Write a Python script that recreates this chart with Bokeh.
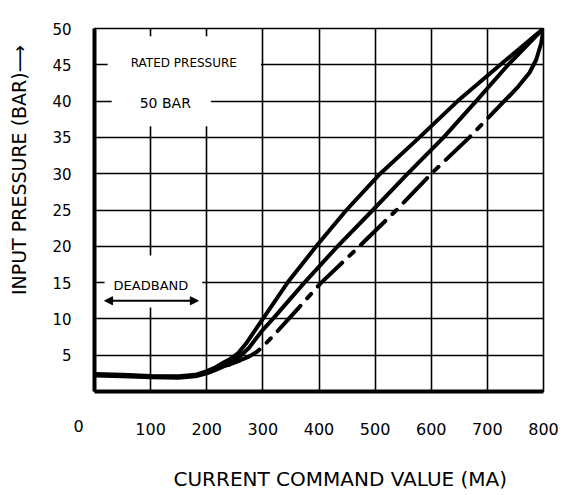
import numpy as np
from bokeh.plotting import figure
from bokeh.models import Range1d, FixedTicker, Label, Arrow, NormalHead
from bokeh.embed import file_html
from bokeh.resources import INLINE

# ---------------- data ----------------
x_ticks = [100, 200, 300, 400, 500, 600, 700, 800]
y_ticks = [5, 10, 15, 20, 25, 30, 35, 40, 45, 50]

upper_x = [0, 50, 100, 150, 180, 200, 215, 230, 240, 255, 270, 285, 300, 344, 395, 449, 509, 579, 647, 723, 800]
upper_y = [2.4, 2.3, 2.15, 2.1, 2.3, 2.8, 3.3, 4.0, 4.4, 5.2, 6.6, 8.3, 10.0, 15.0, 20.0, 25.0, 30.0, 35.0, 40.0, 45.0, 50.0]

middle_x = [0, 50, 100, 150, 180, 200, 215, 230, 245, 260, 275, 290, 300, 319, 374, 433, 496, 558, 622, 680, 737, 800]
middle_y = [2.3, 2.2, 2.05, 2.0, 2.2, 2.65, 3.1, 3.7, 4.2, 4.9, 6.0, 7.5, 8.5, 10.1, 15.0, 20.0, 25.0, 30.0, 35.0, 40.0, 45.0, 50.0]

lower_x = [0, 50, 100, 150, 180, 200, 215, 230, 240, 260, 275, 290, 305, 320, 346, 404, 472, 538, 600, 668, 730, 739, 755, 775, 787, 796, 800]
lower_y = [2.2, 2.1, 1.95, 1.9, 2.1, 2.5, 2.95, 3.45, 3.7, 4.3, 4.8, 5.5, 6.6, 7.8, 10.0, 15.0, 20.0, 25.0, 30.0, 35.0, 40.0, 40.7, 42.0, 43.9, 45.7, 48.0, 50.0]

x_zero_label = "0"
x_title = "CURRENT COMMAND VALUE  (MA)"
y_title = "INPUT PRESSURE (BAR)\u27f6"
rated_text = "RATED PRESSURE"
rated_value_text = "50 BAR"
deadband_text = "DEADBAND"

# ---------------- style ----------------
FONT = "DejaVu Sans"
INK = "black"
LOWER_DASH_START = 240
LOWER_DASH_END = 739

p = figure(
    x_range=Range1d(0, 800), y_range=Range1d(0, 50),
    frame_width=449, frame_height=363,
    min_border_left=94, min_border_right=25, min_border_top=28, min_border_bottom=102,
    output_backend="svg", toolbar_location=None,
    background_fill_color="white", border_fill_color="white",
)
p.outline_line_color = INK
p.outline_line_width = 1.6

for ax, ticks in ((p.xaxis, x_ticks), (p.yaxis, y_ticks)):
    ax.ticker = FixedTicker(ticks=ticks)
    ax.axis_line_width = 4
    ax.axis_line_color = INK
    ax.major_tick_line_color = None
    ax.minor_tick_line_color = None
    ax.major_label_text_font = FONT
    ax.major_label_text_color = INK
p.xaxis.major_label_text_font_size = "16px"
p.xaxis.major_label_standoff = 25
p.yaxis.major_label_text_font_size = "15px"
p.yaxis.major_label_standoff = 17

p.xgrid.ticker = FixedTicker(ticks=x_ticks)
p.ygrid.ticker = FixedTicker(ticks=y_ticks)
for g in (p.xgrid, p.ygrid):
    g.grid_line_color = INK
    g.grid_line_width = 1.6
    g.grid_line_alpha = 1.0

# curves
line_kw = dict(line_width=4, line_color=INK, line_cap="round", line_join="round")
p.line(upper_x, upper_y, **line_kw)
p.line(middle_x, middle_y, **line_kw)

lx = np.array(lower_x)
ly = np.array(lower_y)
m_solid_a = lx <= LOWER_DASH_START
m_dash = (lx >= LOWER_DASH_START) & (lx <= LOWER_DASH_END)
m_solid_b = lx >= LOWER_DASH_END
p.line(lx[m_solid_a], ly[m_solid_a], **line_kw)
p.line(lx[m_dash], ly[m_dash], line_dash="34 10 6 10", **line_kw)
p.line(lx[m_solid_b], ly[m_solid_b], **line_kw)

# annotations with white boxes
rated = Label(x=160, y=44.8, text=rated_text, text_align="center", text_baseline="middle",
              text_font=FONT, text_font_size="12px", text_color=INK,
              background_fill_color="white",
              padding=dict(left=23, right=24, top=20, bottom=26))
rated_val = Label(x=119, y=39.3, text=rated_value_text, text_align="center", text_baseline="middle",
                  text_font=FONT, text_font_size="14px", text_color=INK,
                  background_fill_color="white",
                  padding=dict(left=28, right=20, top=9, bottom=15))
dead = Label(x=105, y=15.15, text=deadband_text, text_align="center", text_baseline="middle",
             text_font=FONT, text_font_size="13px", text_color=INK,
             background_fill_color="white",
             padding=dict(left=9, right=14, top=22, bottom=15))
p.add_layout(rated)
p.add_layout(rated_val)
p.add_layout(dead)

arrow = Arrow(x_start=18, y_start=12.5, x_end=185, y_end=12.5, line_width=2, line_color=INK,
              start=NormalHead(size=8, fill_color=INK, line_color=INK, line_width=1),
              end=NormalHead(size=8, fill_color=INK, line_color=INK, line_width=1))
p.add_layout(arrow)

# axis titles and the offset zero label, placed in side panels (not clipped by the frame)
p.add_layout(Label(x=-28.5, y=-4.8, text=x_zero_label, text_align="center", text_baseline="middle",
                   text_font=FONT, text_font_size="16px", text_color=INK), "below")
p.add_layout(Label(x=443.6, y=-12.0, text=x_title, text_align="center", text_baseline="middle",
                   text_font=FONT, text_font_size="20px", text_color=INK), "below")
p.add_layout(Label(x=-135.4, y=30.5, text=y_title, angle=90, angle_units="deg",
                   text_align="center", text_baseline="middle",
                   text_font=FONT, text_font_size="19px", text_color=INK), "left")

open("out.html", "w").write(file_html(p, INLINE))
